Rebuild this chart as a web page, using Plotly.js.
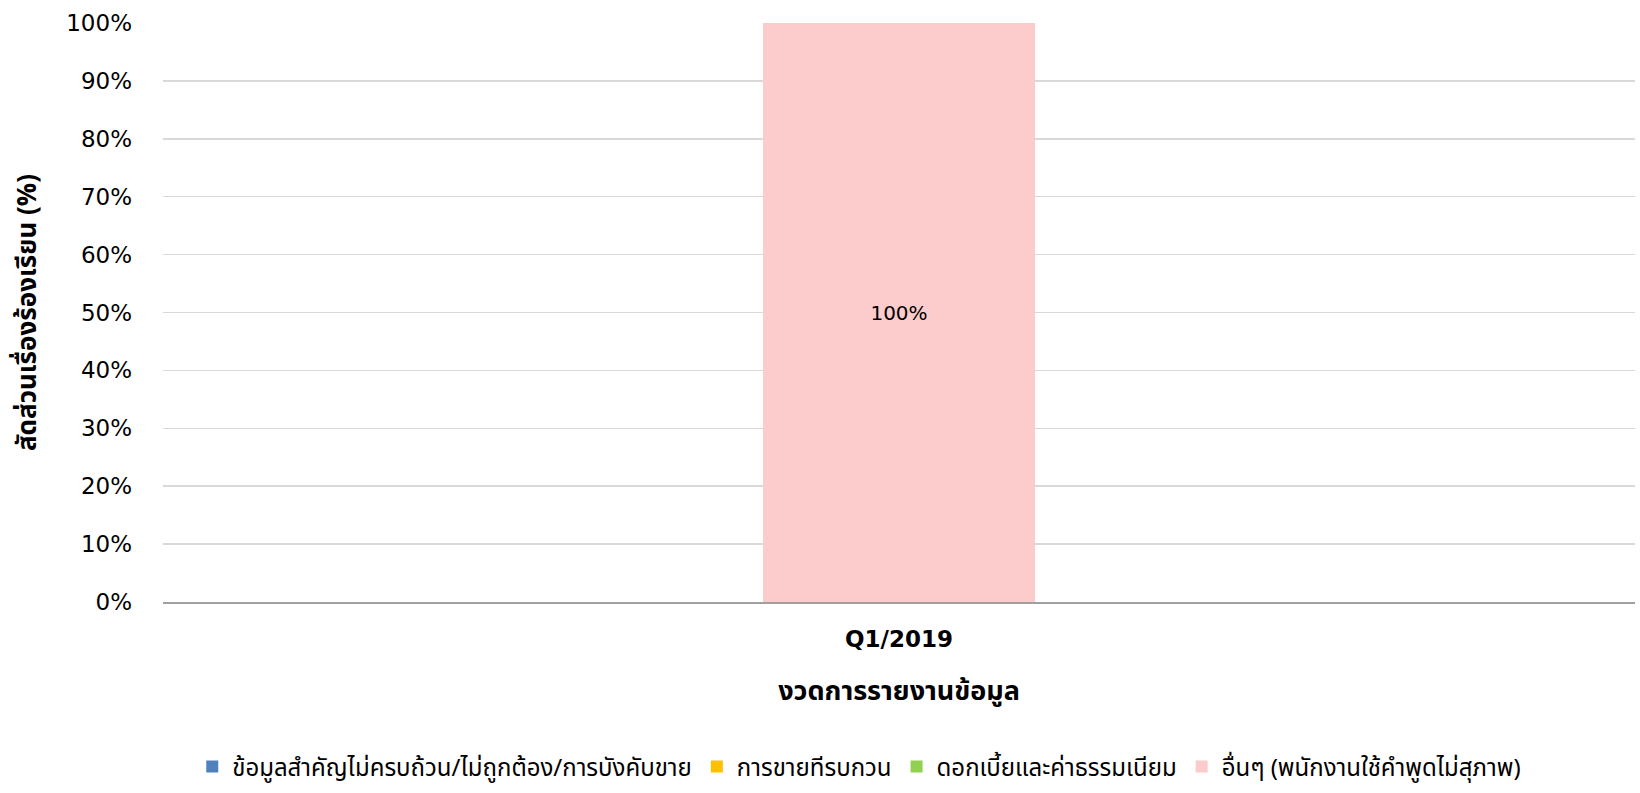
<!DOCTYPE html>
<html>
<head>
<meta charset="utf-8">
<script src="https://cdn.plot.ly/plotly-3.0.1.min.js"></script>
<style>html,body{margin:0;padding:0;background:#fff;}#chart{width:1640px;height:793px;}</style>
</head>
<body>
<div id="chart"></div>
<script>
const categories = ['Q1/2019'];
const seriesNames = ['ข้อมูลสำคัญไม่ครบถ้วน/ไม่ถูกต้อง/การบังคับขาย', 'การขายทีรบกวน', 'ดอกเบี้ยและค่าธรรมเนียม', 'อื่นๆ (พนักงานใช้คำพูดไม่สุภาพ)'];
const seriesValues = [[0], [0], [0], [1.0]];
const seriesColors = ['#4f81bd', '#ffc000', '#92d050', '#fccbcb'];
const yTickVals = [0, 0.1, 0.2, 0.3, 0.4, 0.5, 0.6, 0.7, 0.8, 0.9, 1.0];
const yTickText = ['0%', '10%', '20%', '30%', '40%', '50%', '60%', '70%', '80%', '90%', '100%'];

const baseFont = '"DejaVu Sans", "Noto Sans Thai", sans-serif';
const thaiFont = '"Noto Sans Thai", "Noto Sans", Tahoma, sans-serif';

const traces = seriesNames.map((name, i) => ({
  type: 'bar',
  name: name,
  x: categories,
  y: seriesValues[i],
  marker: {color: seriesColors[i]},
  text: seriesValues[i].map(v => v > 0 ? Math.round(v * 100) + '%' : ''),
  textposition: 'inside',
  insidetextanchor: 'middle',
  textfont: {family: baseFont, size: 20, color: '#000'},
  hoverinfo: 'none'
}));

const layout = {
  width: 1640, height: 793,
  paper_bgcolor: '#fff', plot_bgcolor: '#fff',
  barmode: 'stack',
  bargap: 0.815,
  margin: {l: 163, r: 5, t: 23, b: 191, autoexpand: false},
  showlegend: true,
  legend: {
    orientation: 'h', x: 0.473, xanchor: 'center', xref: 'paper',
    y: -0.285, yanchor: 'middle',
    font: {family: thaiFont, size: 24, color: '#000'},
    traceorder: 'normal',
    itemwidth: 30
  },
  xaxis: {
    type: 'category',
    automargin: false,
    tickfont: {family: baseFont, size: 23, color: '#000', weight: 'bold'},
    showline: true, linecolor: '#a0a0a0', linewidth: 1.5,
    ticks: '', showgrid: false,
    ticklabelstandoff: 16,
    title: {text: '<b>งวดการรายงานข้อมูล</b>', font: {family: thaiFont, size: 27, color: '#000'}, standoff: 30}
  },
  yaxis: {
    range: [0, 1.0],
    automargin: false,
    tickvals: yTickVals, ticktext: yTickText,
    tickfont: {family: baseFont, size: 23, color: '#000'},
    gridcolor: '#d9d9d9', gridwidth: 1.5,
    zeroline: false, showline: false, ticks: '',
    ticklabelstandoff: 30,
    title: {text: '<b>สัดส่วนเรื่องร้องเรียน (%)</b>', font: {family: thaiFont, size: 26, color: '#000'}, standoff: 22}
  }
};

Plotly.newPlot('chart', traces, layout, {displayModeBar: false, staticPlot: true});
</script>
</body>
</html>
